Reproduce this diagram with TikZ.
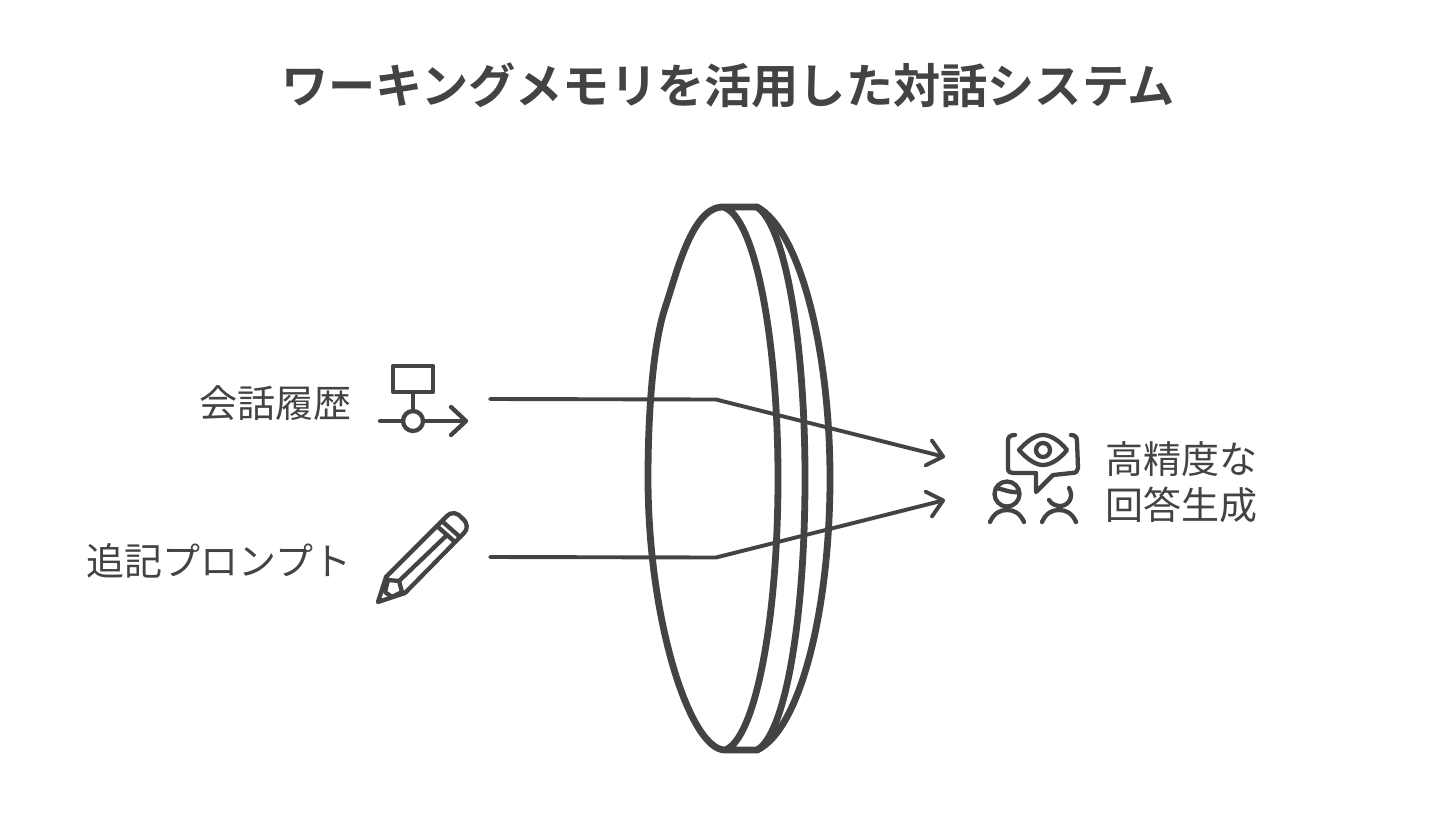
\documentclass[tikz,border=0pt]{standalone}
\usepackage{fontspec}
\usepackage{xcolor}
\usepackage{tikz}
\usetikzlibrary{arrows.meta}
\newfontfamily\cjk[BoldFont={Noto Sans CJK JP Bold}]{Noto Sans CJK JP}
\definecolor{inkgray}{HTML}{434343}
\tikzset{
  title_n/.style = {inner sep=0pt, text=inkgray, font=\cjk\fontsize{47.2}{56}\selectfont\bfseries},
  label_n/.style = {inner sep=0pt, text=inkgray, font=\cjk\fontsize{38}{46}\selectfont, align=left},
  lens_l/.style = {draw=inkgray, line width=6.8pt, line join=round, line cap=round},
  ray_l/.style = {draw=inkgray, line width=3.9pt, line join=round, line cap=round,
    -{Straight Barb[length=15pt,width=26pt,line width=3.9pt,round]}},
  icon_l/.style = {draw=inkgray, line width=4.3pt, line join=round, line cap=round}
}
\begin{document}
\begin{tikzpicture}[x=1pt,y=-1pt]
    \useasboundingbox (0,0) rectangle (1456,822);
    \node [title_n] (title) at (728,85) {ワーキングメモリを活用した対話システム};
    \node [label_n, anchor=east] (history) at (351.5,403) {会話履歴};
    \node [label_n, anchor=east] (prompt) at (351.5,561) {追記プロンプト};
    \node [label_n, anchor=west] (answer) at (1105,482) {高精度な\\回答生成};
    % lens
    \draw [lens_l] (723,207) .. controls (692,207) and (677,272) .. (665,308)
        .. controls (652,348) and (648,420) .. (648,478)
        .. controls (648,620) and (690,750) .. (725,750)
        .. controls (755,740) and (778,620) .. (778,478)
        .. controls (778,340) and (755,215) .. (723,207) -- (757,207)
        .. controls (785,225) and (805,340) .. (805,478)
        .. controls (805,620) and (785,735) .. (757,750) -- (725,750);
    \draw [lens_l] (757,207) .. controls (800,230) and (830,350) .. (830,478)
        .. controls (830,610) and (800,730) .. (757,750);
    % rays
    \coordinate (hist_in) at (490,399);
    \coordinate (hist_bend) at (716,399.5);
    \coordinate (hist_out) at (945,457);
    \coordinate (prom_in) at (490,557);
    \coordinate (prom_bend) at (716,557.5);
    \coordinate (prom_out) at (945,500);
    \draw [ray_l] (hist_in) -- (hist_bend) -- (hist_out);
    \draw [ray_l] (prom_in) -- (prom_bend) -- (prom_out);
    % flow icon
    \draw [icon_l] (393,366) rectangle (433,392);
    \draw [icon_l] (413,392) -- (413,411);
    \draw [icon_l] (413,421) circle (10);
    \draw [icon_l] (380,421) -- (403,421);
    \draw [icon_l] (423,421) -- (465,421);
    \draw [icon_l] (451,407) -- (466,421) -- (451,435);
    % pencil icon
    \draw [icon_l] (378,602) -- (386,577) -- (447,516)
        .. controls (452,511) and (458,513) .. (462,518)
        .. controls (468,523) and (468,529) .. (464,533) -- (405,593) -- cycle;
    \draw [icon_l] (386,577) -- (388,580) -- (399,581) -- (402,592);
    \draw [icon_l] (399,581) -- (446,536);
    \draw [icon_l] (438,527) -- (455,542);
    \draw [icon_l] (443,522) -- (460,537);
    \draw [icon_l] (388,580) -- (385,592) -- (392,597) -- (402,592);
    % eye icon
    \draw [icon_l] (1015,435) .. controls (1010,435) and (1008,437) .. (1008,441) -- (1008,468)
        .. controls (1008,472) and (1010,473) .. (1013,473) -- (1036,473) -- (1036,492)
        -- (1053,475) -- (1072,473) .. controls (1076,473) and (1078,471) .. (1078,468)
        -- (1077,441) .. controls (1077,437) and (1075,435) .. (1071,435);
    \draw [icon_l] (1019,450) .. controls (1028,440) and (1036,435) .. (1043,435)
        .. controls (1050,435) and (1059,440) .. (1067,450)
        .. controls (1059,460) and (1050,465) .. (1043,465)
        .. controls (1036,465) and (1028,460) .. (1019,450) -- cycle;
    \draw [icon_l] (1043,450) circle (7);
    % people
    \draw [icon_l] (1007,494) circle (12.5);
    \draw [icon_l] (996,488) .. controls (1003,489) and (1010,493) .. (1019,492);
    \draw [icon_l] (990,522) .. controls (994,513) and (1000,510) .. (1007,510)
        .. controls (1014,510) and (1020,513) .. (1024,522);
    \draw [icon_l] (1049,500) .. controls (1052,505) and (1057,506) .. (1061,506)
        .. controls (1069,505) and (1074,497) .. (1069,488);
    \draw [icon_l] (1042,522) .. controls (1046,513) and (1052,510) .. (1059,510)
        .. controls (1066,510) and (1072,513) .. (1076,522);
\end{tikzpicture}
\end{document}
